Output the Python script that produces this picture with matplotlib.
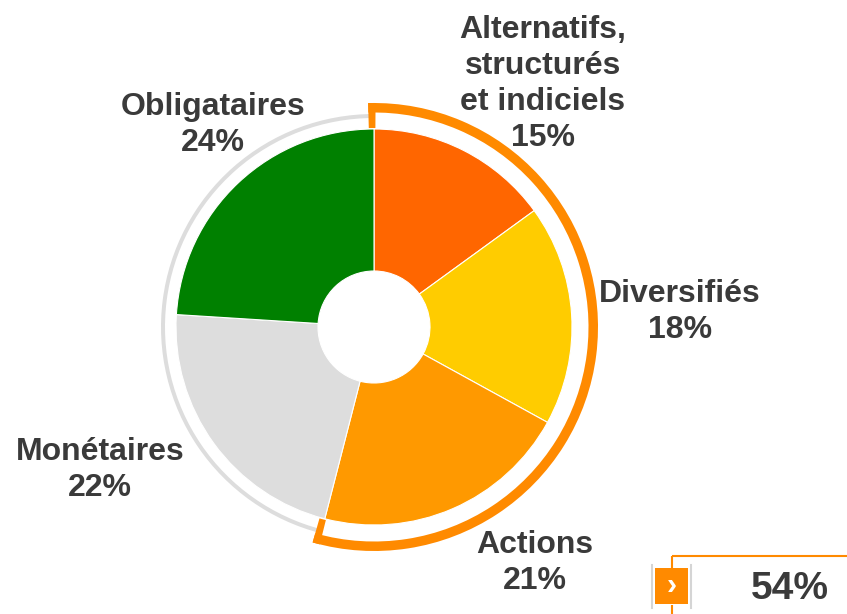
import matplotlib.pyplot as plt
from matplotlib.patches import Wedge, Rectangle

plt.rcParams['font.family'] = ['Liberation Sans', 'DejaVu Sans']

# Répartition des encours par classe d'actifs
labels = ['Alternatifs,\nstructurés\net indiciels', 'Diversifiés', 'Actions', 'Monétaires', 'Obligataires']
values = [15, 18, 21, 22, 24]
colors = ['#FF6600', '#FFCC00', '#FF9900', '#DDDDDD', '#008000']
highlight_count = 3  # segments entourés par l'arc orange

W, H = 847, 614
fig = plt.figure(figsize=(W / 100, H / 100), dpi=100)
ax = fig.add_axes([0, 0, 1, 1])

cx, cy = 374, H - 327
r_out, r_in = 198, 56
text_color = '#3A3A3A'
arc_color = '#FF8A00'

ax.pie(values, colors=colors, startangle=90, counterclock=False,
       center=(cx, cy), radius=r_out,
       wedgeprops=dict(width=r_out - r_in, edgecolor='white', linewidth=0.8))

# Arc de mise en avant + anneau gris pour le reste
total = sum(values)
share = sum(values[:highlight_count])
end_angle = 90 - 360 * share / total
ax.add_patch(Wedge((cx, cy), 213, 90, end_angle + 360, width=4, color='#DDDDDD', lw=0))
ax.add_patch(Wedge((cx, cy), 224, end_angle - 1.5, 91.5, width=9.5, color=arc_color, lw=0))
ax.add_patch(Wedge((cx, cy), 224, 89.6, 91.5, width=25, color=arc_color, lw=0))
ax.add_patch(Wedge((cx, cy), 224, end_angle - 1.5, end_angle + 0.4, width=25, color=arc_color, lw=0))

# Étiquettes
label_pos = [(543, 84), (680, 312), (535, 563), (100, 470), (213, 125)]
for lab, val, (x, y) in zip(labels, values, label_pos):
    ax.text(x, H - y, f'{lab}\n{val}%', ha='center', va='center', fontsize=23,
            fontweight='bold', color=text_color, linespacing=1.25)

# Encadré du total mis en avant
ax.plot([672, 847], [H - 556, H - 556], color=arc_color, lw=1.5, solid_capstyle='butt')
ax.plot([672, 672], [H - 556, H - 568], color=arc_color, lw=1.5, solid_capstyle='butt')
ax.plot([672, 672], [H - 605, H - 614], color=arc_color, lw=1.5, solid_capstyle='butt')
ax.plot([652, 652], [H - 565, H - 608], color='#D5D5D5', lw=1.5)
ax.plot([691, 691], [H - 565, H - 608], color='#D5D5D5', lw=1.5)
ax.add_patch(Rectangle((655, H - 604), 33, 36, color=arc_color, lw=0))
ax.text(671.5, H - 586, '›', ha='center', va='center', fontsize=22,
        fontweight='bold', color='white')
ax.text(790, H - 589, f'{share}%', ha='center', va='center', fontsize=28,
        fontweight='bold', color=text_color)

ax.set_xlim(0, W)
ax.set_ylim(0, H)
ax.set_aspect('equal')
ax.axis('off')

fig.savefig('out.png', dpi=100, facecolor='white')
